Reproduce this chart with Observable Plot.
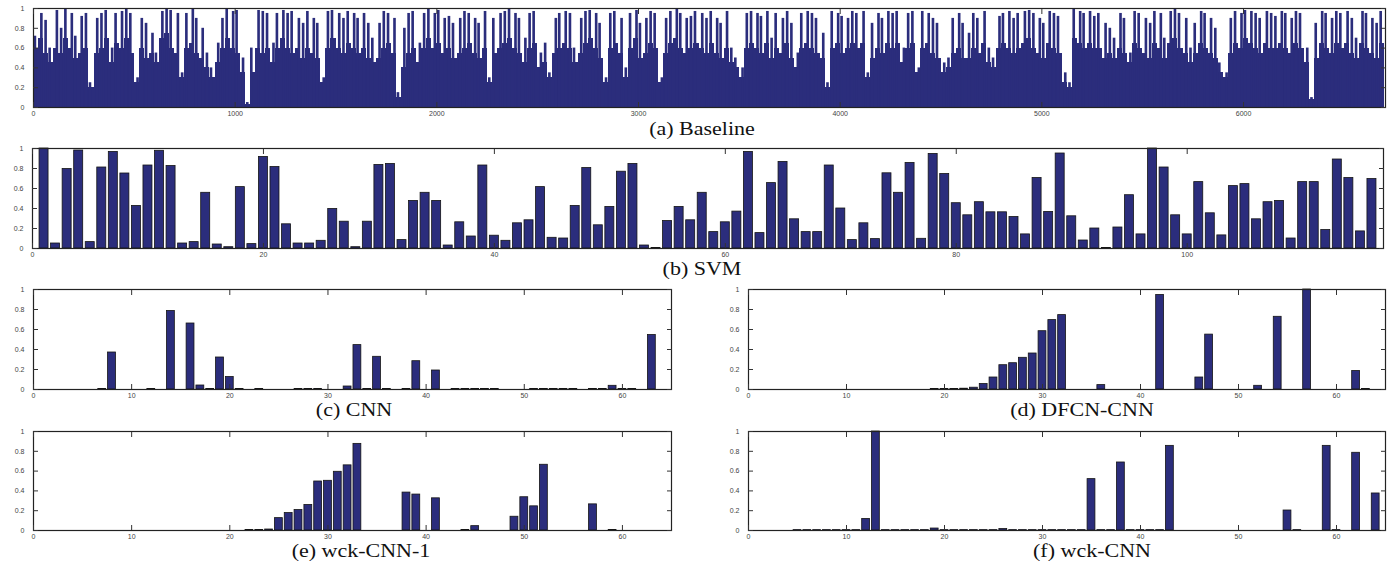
<!DOCTYPE html>
<html><head><meta charset="utf-8">
<script src="https://cdn.jsdelivr.net/npm/d3@7"></script>
<script src="https://cdn.jsdelivr.net/npm/@observablehq/plot@0.6"></script>
<style>
body{margin:0;background:#fff;}
#root{position:relative;width:1397px;height:566px;overflow:hidden;background:#fff;}
.panel{position:absolute;}
.panel svg{overflow:visible;}
.cap{position:absolute;font-family:"Liberation Serif","Times New Roman",serif;font-size:22px;color:#111;white-space:nowrap;line-height:1;transform:translate(-50%,-50%) scaleY(0.85);}
</style></head><body><div id="root"></div>
<script>
// ---------- data ----------
const yTicks = [0, 0.2, 0.4, 0.6, 0.8, 1];
const baselineTicks = [0, 1000, 2000, 3000, 4000, 5000, 6000];
const svmTicks = [0, 20, 40, 60, 80, 100];
const cnnTicks = [0, 10, 20, 30, 40, 50, 60];
const baselineBin = 25; // feature indices per bin (read at ~5px resolution)
const baselineCount = 6704;

const baselineTop = [
0.72,0.95,0.88,0.6,0.98,0.8,1.0,0.95,0.72,0.92,
0.95,0.25,0.9,0.95,0.98,0.6,0.95,0.97,1.0,0.95,
0.3,0.9,0.85,0.75,0.55,0.97,1.0,0.98,0.95,0.35,
0.95,1.0,0.9,0.8,0.55,0.4,0.65,0.9,1.0,0.97,
0.98,0.5,0.05,0.6,0.98,0.97,0.95,0.65,0.95,0.98,
0.95,0.97,0.9,0.85,0.97,0.9,0.85,0.3,0.97,0.98,
0.95,0.9,0.97,0.95,0.9,0.95,0.85,0.7,0.85,0.97,
0.95,0.9,0.15,0.8,0.95,0.97,0.65,0.95,1.0,0.95,
0.98,0.9,0.92,0.85,0.9,
0.97,0.95,0.9,0.85,0.97,0.3,0.9,0.95,0.97,1.0,
0.95,0.9,0.7,0.95,0.97,0.55,0.65,0.35,0.9,0.95,
0.97,0.95,0.6,0.9,0.97,0.98,0.95,0.85,0.3,0.95,
0.97,0.9,0.4,0.95,0.98,0.85,0.9,0.97,0.95,0.3,
0.9,0.97,1.0,0.95,0.9,0.92,0.97,0.95,0.9,0.97,
0.9,0.85,0.97,0.6,0.5,0.4,0.95,0.97,0.95,0.92,
0.97,0.7,0.95,0.9,0.97,0.85,0.55,0.95,0.97,0.95,
0.9,0.75,0.25,0.97,0.95,0.92,0.9,0.97,0.95,0.97,
0.35,0.85,0.95,0.9,0.97,0.95,0.97,0.6,0.95,0.97,0.4,
0.97,0.95,0.9,0.85,0.45,0.5,0.9,0.95,0.85,0.75,
0.95,0.9,0.97,0.6,0.5,0.92,0.95,0.97,0.9,0.95,
0.97,0.98,0.95,0.9,0.85,0.97,0.95,0.92,0.35,0.25,
1.0,0.97,0.95,0.97,0.92,0.95,0.85,0.8,0.7,0.95,
0.9,0.55,0.97,0.95,0.9,0.85,0.97,0.95,0.7,0.97,
1.0,0.95,0.9,0.6,0.85,0.97,0.95,0.9,0.8,0.45,
0.35,0.9,0.97,0.95,0.98,0.97,0.95,0.9,0.97,0.95,
0.92,0.97,0.95,0.9,0.97,0.95,0.6,0.1,0.85,0.97,
0.95,0.9,0.97,0.95,0.97,0.9,0.7,0.97,0.95,0.9,
0.85,0.97
];
const baselineFloor = [
0.6,0.7,0.55,0.45,0.6,0.55,0.7,0.6,0.5,0.55,
0.6,0.2,0.55,0.6,0.7,0.45,0.65,0.6,0.7,0.55,
0.25,0.6,0.5,0.55,0.45,0.7,0.75,0.6,0.55,0.3,
0.6,0.65,0.55,0.5,0.4,0.3,0.45,0.6,0.7,0.6,
0.55,0.35,0.03,0.35,0.6,0.55,0.6,0.45,0.6,0.7,
0.6,0.55,0.6,0.5,0.6,0.55,0.5,0.25,0.6,0.7,
0.6,0.55,0.65,0.6,0.55,0.6,0.5,0.45,0.5,0.6,
0.65,0.55,0.1,0.4,0.55,0.6,0.45,0.6,0.7,0.6,
0.65,0.55,0.6,0.5,0.55,
0.6,0.65,0.55,0.5,0.6,0.25,0.55,0.6,0.65,0.7,
0.6,0.55,0.45,0.6,0.65,0.4,0.45,0.3,0.55,0.6,
0.65,0.6,0.45,0.55,0.65,0.7,0.6,0.5,0.25,0.6,
0.65,0.55,0.3,0.6,0.7,0.5,0.55,0.65,0.6,0.25,
0.55,0.65,0.7,0.6,0.55,0.6,0.65,0.6,0.55,0.65,
0.55,0.5,0.6,0.45,0.4,0.3,0.6,0.65,0.6,0.55,
0.65,0.5,0.6,0.55,0.65,0.5,0.4,0.6,0.65,0.6,
0.55,0.5,0.2,0.6,0.65,0.55,0.6,0.65,0.6,0.65,
0.3,0.5,0.6,0.55,0.65,0.6,0.65,0.45,0.6,0.65,0.35,
0.6,0.65,0.55,0.5,0.35,0.4,0.55,0.6,0.5,0.5,
0.6,0.55,0.65,0.45,0.4,0.6,0.65,0.6,0.55,0.6,
0.65,0.7,0.6,0.55,0.5,0.65,0.6,0.55,0.25,0.2,
0.7,0.65,0.6,0.65,0.6,0.6,0.5,0.55,0.5,0.6,
0.55,0.45,0.65,0.6,0.55,0.5,0.65,0.6,0.5,0.65,
0.7,0.6,0.55,0.45,0.55,0.65,0.6,0.55,0.5,0.35,
0.3,0.55,0.65,0.6,0.7,0.65,0.6,0.55,0.65,0.6,
0.6,0.65,0.6,0.55,0.65,0.6,0.45,0.08,0.5,0.65,
0.6,0.55,0.65,0.6,0.65,0.55,0.5,0.65,0.6,0.55,
0.5,0.65
];

const svm = [
1.0,0.05,0.795,0.98,0.064,0.81,0.966,0.75,0.426,0.83,
0.977,0.825,0.05,0.064,0.557,0.04,0.013,0.614,0.044,0.916,
0.815,0.242,0.05,0.05,0.077,0.396,0.268,0.013,0.268,0.836,
0.846,0.084,0.476,0.557,0.476,0.03,0.262,0.12,0.83,0.128,
0.077,0.252,0.282,0.614,0.107,0.1,0.426,0.805,0.232,0.416,
0.768,0.846,0.03,0.005,0.275,0.416,0.282,0.557,0.164,0.262,
0.369,0.966,0.154,0.654,0.866,0.292,0.164,0.164,0.83,0.4,
0.084,0.252,0.094,0.752,0.557,0.856,0.097,0.946,0.745,0.453,
0.332,0.463,0.362,0.362,0.315,0.141,0.705,0.366,0.95,0.322,
0.08,0.2,0.005,0.21,0.533,0.141,1.0,0.81,0.332,0.141,
0.664,0.352,0.131,0.624,0.644,0.292,0.463,0.476,0.1,0.664,
0.664,0.185,0.89,0.705,0.171,0.695
];

const cnn = [
0,0,0,0,0,0,0.006,0.37,0,0,
0,0.006,0,0.785,0,0.66,0.04,0.006,0.32,0.125,
0.006,0,0.006,0,0,0,0.006,0.006,0.006,0,
0,0.03,0.444,0.006,0.327,0.006,0,0.006,0.283,0,
0.19,0,0.006,0.006,0.006,0.006,0.006,0,0,0,
0.006,0.006,0.006,0.006,0.006,0,0.006,0.006,0.037,0.006,
0.006,0,0.545,0
];
const dfcnCnn = [
0,0,0,0,0,0,0,0,0,0,
0,0,0,0,0,0,0,0,0.005,0.005,
0.005,0.008,0.018,0.055,0.12,0.243,0.263,0.317,0.36,0.583,
0.694,0.744,0,0,0,0.044,0,0,0,0,
0,0.946,0,0,0,0.12,0.549,0,0,0,
0,0.037,0,0.727,0,0,1.0,0,0,0,
0,0.185,0.005,0
];
const wckCnn1 = [
0,0,0,0,0,0,0,0,0,0,
0,0,0,0,0,0,0,0,0,0,
0,0.005,0.005,0.01,0.125,0.176,0.207,0.258,0.495,0.502,
0.593,0.658,0.875,0,0,0,0,0.383,0.363,0,
0.325,0,0,0.005,0.044,0,0,0,0.139,0.336,
0.244,0.664,0,0,0,0,0.264,0,0.005,0,
0,0,0,0
];
const wckCnn = [
0,0,0,0,0.004,0.004,0.004,0.004,0.004,0.004,
0.004,0.117,1.0,0.004,0.004,0.004,0.004,0.004,0.02,0.004,
0.004,0.004,0.004,0.004,0.004,0.015,0.004,0.004,0.004,0.004,
0.004,0.004,0.004,0.004,0.519,0.004,0.004,0.687,0.004,0.004,
0.004,0.004,0.855,0,0,0,0,0,0,0,
0,0,0,0,0.202,0.004,0,0,0.855,0.004,
0,0.785,0,0.374
];

// ---------- drawing ----------
const navy = "#2b2d7c";
const root = document.getElementById("root");
const sans = "'Liberation Sans', Arial, Helvetica, sans-serif";

function axes(xTicks) {
  const fmt = d => String(d);
  const blank = () => "";
  return [
    Plot.frame({stroke: "#222", strokeWidth: 1.2}),
    Plot.axisY(yTicks, {anchor: "left", tickSize: 0, tickPadding: 9, tickFormat: fmt, label: null, fill: "#444"}),
    Plot.axisY(yTicks, {anchor: "left", tickSize: 5, tickFormat: blank, label: null, dx: 5, stroke: "#333"}),
    Plot.axisY(yTicks, {anchor: "right", tickSize: 5, tickFormat: blank, label: null, dx: -5, stroke: "#333"}),
    Plot.axisX(xTicks, {anchor: "bottom", tickSize: 0, tickPadding: 4, tickFormat: fmt, label: null, fill: "#444"}),
    Plot.axisX(xTicks, {anchor: "bottom", tickSize: 5, tickFormat: blank, label: null, dy: -5, stroke: "#333"}),
    Plot.axisX(xTicks, {anchor: "top", tickSize: 5, tickFormat: blank, label: null, dy: 5, stroke: "#333"})
  ];
}

function barMarks(values, width) {
  const data = values.map((v, i) => ({i: i + 1, v})).filter(d => d.v > 0);
  return [Plot.rect(data, {
    x1: d => d.i - width / 2, x2: d => d.i + width / 2, y1: 0, y2: "v",
    fill: navy, stroke: "#151515", strokeWidth: 0.8
  })];
}

function panel({left, top, width, height, mt, mb, ml, mr, xDomain, xTicks, marks}) {
  const chart = Plot.plot({
    width, height,
    marginTop: mt, marginBottom: mb, marginLeft: ml, marginRight: mr,
    style: {fontFamily: sans, fontSize: "7px", color: "#333", background: "transparent", overflow: "visible"},
    x: {domain: xDomain},
    y: {domain: [0, 1]},
    marks: [...marks, ...axes(xTicks)]
  });
  const div = document.createElement("div");
  div.className = "panel";
  div.style.left = left + "px";
  div.style.top = top + "px";
  div.appendChild(chart);
  root.appendChild(div);
}

function caption(text, cx, cy) {
  const d = document.createElement("div");
  d.className = "cap";
  d.textContent = text;
  d.style.left = cx + "px";
  d.style.top = cy + "px";
  root.appendChild(d);
}

// (a) Baseline: spikes drawn at staggered offsets inside each bin (style only)
const stagger = [3, 10, 6, 1, 12, 8, 4, 11];
const spikeW = 13;
const baseData = baselineTop.map((t, k) => ({k, top: t, floor: baselineFloor[k]}));
const sx1 = d => d.k * baselineBin + stagger[d.k % stagger.length];
const sx2 = d => sx1(d) + spikeW;
panel({
  left: 0, top: 0, width: 1397, height: 140, mt: 8, mb: 33, ml: 33, mr: 12,
  xDomain: [0, baselineCount], xTicks: baselineTicks,
  marks: [
    Plot.rect(baseData, {x1: d => d.k * baselineBin, x2: d => (d.k + 1) * baselineBin, y1: 0, y2: "floor", fill: navy, shapeRendering: "crispEdges"}),
    Plot.rect(baseData, {x1: sx1, x2: sx2, y1: 0, y2: "top", fill: navy}),
    Plot.rect(baseData, {x1: sx1, x2: sx2, y1: "top", y2: "top", stroke: "#1a1a40", strokeWidth: 0.8})
  ]
});
caption("(a) Baseline", 702, 129);

// (b) SVM
panel({
  left: 0, top: 140, width: 1397, height: 140, mt: 8, mb: 32, ml: 32, mr: 14,
  xDomain: [0, 117], xTicks: svmTicks,
  marks: barMarks(svm, 0.78)
});
caption("(b) SVM", 702, 269);

// (c) CNN
panel({
  left: 0, top: 280, width: 700, height: 140, mt: 9, mb: 31, ml: 33, mr: 29,
  xDomain: [0, 65], xTicks: cnnTicks, marks: barMarks(cnn, 0.8)
});
caption("(c) CNN", 354, 410);

// (d) DFCN-CNN
panel({
  left: 700, top: 280, width: 697, height: 140, mt: 9, mb: 31, ml: 48, mr: 12,
  xDomain: [0, 65], xTicks: cnnTicks, marks: barMarks(dfcnCnn, 0.8)
});
caption("(d) DFCN-CNN", 1082, 410);

// (e) wck-CNN-1
panel({
  left: 0, top: 420, width: 700, height: 140, mt: 11, mb: 30, ml: 33, mr: 29,
  xDomain: [0, 65], xTicks: cnnTicks, marks: barMarks(wckCnn1, 0.8)
});
caption("(e) wck-CNN-1", 361, 551);

// (f) wck-CNN
panel({
  left: 700, top: 420, width: 697, height: 140, mt: 11, mb: 30, ml: 48, mr: 12,
  xDomain: [0, 65], xTicks: cnnTicks, marks: barMarks(wckCnn, 0.8)
});
caption("(f) wck-CNN", 1092, 551);
</script>
</body></html>
